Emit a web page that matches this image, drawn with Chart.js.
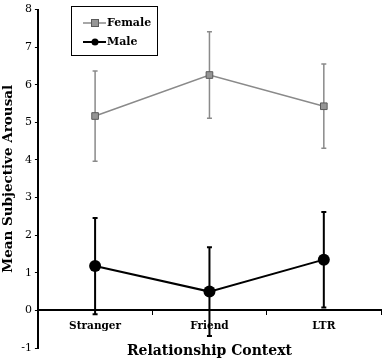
<!DOCTYPE html>
<html>
<head>
<meta charset="utf-8">
<script src="https://cdn.jsdelivr.net/npm/chart.js@4.4.1/dist/chart.umd.min.js"></script>
<style>
  html, body { margin: 0; padding: 0; background: #fff; }
  #wrap { width: 387px; height: 361px; }
</style>
</head>
<body>
<div id="wrap"><canvas id="myChart"></canvas></div>
<script>
// data
const contexts = ['Stranger', 'Friend', 'LTR'];
const femaleMeans = [5.17, 6.26, 5.43];
const femaleErr = [1.20, 1.15, 1.12];
const maleMeans = [1.18, 0.50, 1.35];
const maleErr = [1.28, 1.18, 1.27];
const yMin = -1;
const yMax = 8;

const SERIF = '"DejaVu Serif", serif';

// error bars, drawn under the markers
const errorBars = {
    id: 'errorBars',
    beforeDatasetsDraw(chart) {
        const ctx = chart.ctx;
        const yScale = chart.scales.y;
        chart.data.datasets.forEach((ds, i) => {
            const meta = chart.getDatasetMeta(i);
            ctx.save();
            ctx.strokeStyle = ds.errColor;
            ctx.lineWidth = ds.errWidth;
            meta.data.forEach((pt, j) => {
                const top = yScale.getPixelForValue(ds.data[j] + ds.errors[j]);
                const bot = yScale.getPixelForValue(ds.data[j] - ds.errors[j]);
                ctx.beginPath();
                ctx.moveTo(pt.x, top); ctx.lineTo(pt.x, bot);
                ctx.moveTo(pt.x - 2.5, top); ctx.lineTo(pt.x + 2.5, top);
                ctx.moveTo(pt.x - 2.5, bot); ctx.lineTo(pt.x + 2.5, bot);
                ctx.stroke();
            });
            ctx.restore();
        });
    }
};

// legend box inside the plot, top left
const boxLegend = {
    id: 'boxLegend',
    afterDraw(chart) {
        const ctx = chart.ctx;
        const x0 = 71, y0 = 6, w = 86, h = 49;
        ctx.save();
        ctx.strokeStyle = '#000';
        ctx.lineWidth = 1;
        ctx.strokeRect(x0 + 0.5, y0 + 0.5, w, h);
        chart.data.datasets.forEach((ds, i) => {
            const cy = y0 + 17 + i * 19;
            ctx.strokeStyle = ds.borderColor;
            ctx.lineWidth = ds.borderWidth;
            ctx.beginPath();
            ctx.moveTo(83, cy); ctx.lineTo(106, cy);
            ctx.stroke();
            ctx.fillStyle = ds.pointBackgroundColor;
            ctx.strokeStyle = ds.pointBorderColor;
            ctx.lineWidth = 1;
            if (ds.pointStyle === 'rect') {
                ctx.fillRect(91, cy - 4, 8, 8);
                ctx.strokeRect(91.5, cy - 3.5, 7, 7);
            } else {
                ctx.beginPath();
                ctx.arc(95, cy, 3.5, 0, Math.PI * 2);
                ctx.fill();
            }
            ctx.fillStyle = '#000';
            ctx.font = 'bold 11px ' + SERIF;
            ctx.textBaseline = 'middle';
            ctx.fillText(ds.label, 107, cy);
        });
        ctx.restore();
    }
};

const chartConfig = {
    type: 'line',
    data: {
        labels: contexts,
        datasets: [{
            label: 'Female',
            data: femaleMeans,
            errors: femaleErr,
            errColor: '#8a8a8a',
            errWidth: 1.5,
            borderColor: '#8a8a8a',
            borderWidth: 1.5,
            pointStyle: 'rect',
            pointRadius: 4.7,
            pointBackgroundColor: '#959595',
            pointBorderColor: '#5a5a5a',
            pointBorderWidth: 1,
            tension: 0
        }, {
            label: 'Male',
            data: maleMeans,
            errors: maleErr,
            errColor: '#000',
            errWidth: 2,
            borderColor: '#000',
            borderWidth: 2,
            pointStyle: 'circle',
            pointRadius: 6,
            pointBackgroundColor: '#000',
            pointBorderColor: '#000',
            pointBorderWidth: 0,
            tension: 0
        }]
    },
    options: {
        responsive: true,
        maintainAspectRatio: false,
        animation: false,
        devicePixelRatio: 1,
        layout: { padding: { top: 0, right: 1, bottom: 13, left: 0 } },
        plugins: { legend: { display: false }, tooltip: { enabled: false } },
        scales: {
            x: {
                type: 'category',
                position: { y: 0 },
                offset: true,
                grid: { offset: true, drawOnChartArea: false, tickLength: 4, color: '#000', lineWidth: 1 },
                border: { color: '#000', width: 2 },
                ticks: { color: '#000', padding: 6, font: { family: SERIF, size: 10.5, weight: 'bold' } },
                title: {
                    display: true, text: 'Relationship Context', color: '#000',
                    font: { family: SERIF, size: 14, weight: 'bold' }, padding: { top: 4, bottom: 0 }
                }
            },
            y: {
                min: yMin,
                max: yMax,
                ticks: { stepSize: 1, color: '#000', padding: 3, font: { family: SERIF, size: 11 } },
                grid: { drawOnChartArea: false, tickLength: 3, color: '#000' },
                border: { color: '#000', width: 2 },
                title: {
                    display: true, text: 'Mean Subjective Arousal', color: '#000',
                    font: { family: SERIF, size: 13.5, weight: 'bold' }, padding: { top: 0, bottom: 2 }
                }
            }
        }
    },
    plugins: [errorBars, boxLegend]
};

const myChart = new Chart(document.getElementById('myChart'), chartConfig);
</script>
</body>
</html>
